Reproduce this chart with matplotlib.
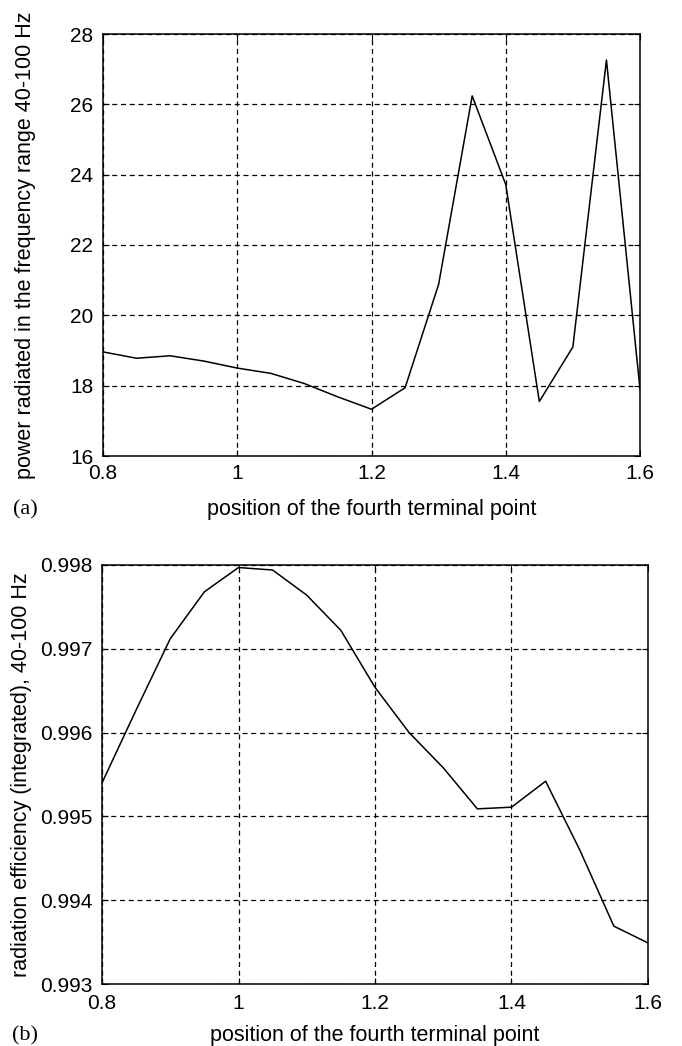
import matplotlib
matplotlib.use("Agg")
import matplotlib.pyplot as plt
from matplotlib.ticker import FixedLocator, FormatStrFormatter
from matplotlib.transforms import blended_transform_factory

# ---- data ----
position = [0.80, 0.85, 0.90, 0.95, 1.00, 1.05, 1.10, 1.15, 1.20,
            1.25, 1.30, 1.35, 1.40, 1.45, 1.50, 1.55, 1.60]
power = [18.96, 18.78, 18.85, 18.70, 18.50, 18.35, 18.06, 17.68, 17.33,
         17.94, 20.88, 26.24, 23.72, 17.55, 19.10, 27.26, 17.90]
efficiency = [0.99540, 0.99627, 0.99712, 0.99768, 0.99797, 0.99794, 0.99764,
              0.99722, 0.99654, 0.99600, 0.99558, 0.99509, 0.99511, 0.99542,
              0.99460, 0.99369, 0.99349]

xticks = [0.8, 1.0, 1.2, 1.4, 1.6]
xticklabels = ["0.8", "1", "1.2", "1.4", "1.6"]
yticks_a = [16, 18, 20, 22, 24, 26, 28]
yticks_b = [0.993, 0.994, 0.995, 0.996, 0.997, 0.998]

xlabel = "position of the fourth terminal point"
ylabel_a = "power radiated in the frequency range 40-100 Hz"
ylabel_b = "radiation efficiency (integrated), 40-100 Hz"

plt.rcParams['font.family'] = ['Liberation Sans', 'DejaVu Sans']

W, H = 682, 1046
fig = plt.figure(figsize=(W / 100, H / 100), dpi=100)

def px_axes(left, top, right, bottom):
    return fig.add_axes([left / W, 1 - bottom / H, (right - left) / W, (bottom - top) / H])

ax1 = px_axes(103, 34, 640, 456)
ax2 = px_axes(102, 565, 648, 984)

tick_fs = 15
label_fs = 15.5
for ax in (ax1, ax2):
    ax.set_xlim(0.8, 1.6)
    ax.set_xticks(xticks)
    ax.set_xticklabels(xticklabels)
    ax.grid(True, color='black', linestyle=(0, (4, 3)), linewidth=0.9)
    ax.tick_params(direction='in', length=4, width=0.8, labelsize=tick_fs,
                   top=True, right=True)
    ax.tick_params(axis='y', pad=7)
    for s in ax.spines.values():
        s.set_linewidth(1.1)
        s.set_color('black')
ax1.tick_params(axis='x', pad=6)
ax2.tick_params(axis='x', pad=7)

def place_labels(ax, ylab, xlab, ylab_x_px, xlab_y_px):
    tr_y = blended_transform_factory(fig.transFigure, ax.transAxes)
    tr_x = blended_transform_factory(ax.transAxes, fig.transFigure)
    ax.text(ylab_x_px / W, 0.5, ylab, transform=tr_y, rotation=90,
            ha='center', va='center', fontsize=label_fs)
    ax.text(0.5, 1 - xlab_y_px / H, xlab, transform=tr_x,
            ha='center', va='center', fontsize=label_fs)

ax1.plot(position, power, color='black', linewidth=1.1)
ax1.set_ylim(16, 28)
ax1.set_yticks(yticks_a)
place_labels(ax1, ylabel_a, xlabel, 26, 509)

ax2.plot(position, efficiency, color='black', linewidth=1.1)
ax2.set_ylim(0.993, 0.998)
ax2.yaxis.set_major_locator(FixedLocator(yticks_b))
ax2.yaxis.set_major_formatter(FormatStrFormatter('%.3f'))
place_labels(ax2, ylabel_b, xlabel, 22, 1035)

fig.text(25 / W, 1 - 510 / H, "(a)", fontsize=16, family=['Liberation Serif'],
         ha='center', va='center')
fig.text(25 / W, 1 - 1036 / H, "(b)", fontsize=16, family=['Liberation Serif'],
         ha='center', va='center')

fig.savefig("out.png", dpi=100)
